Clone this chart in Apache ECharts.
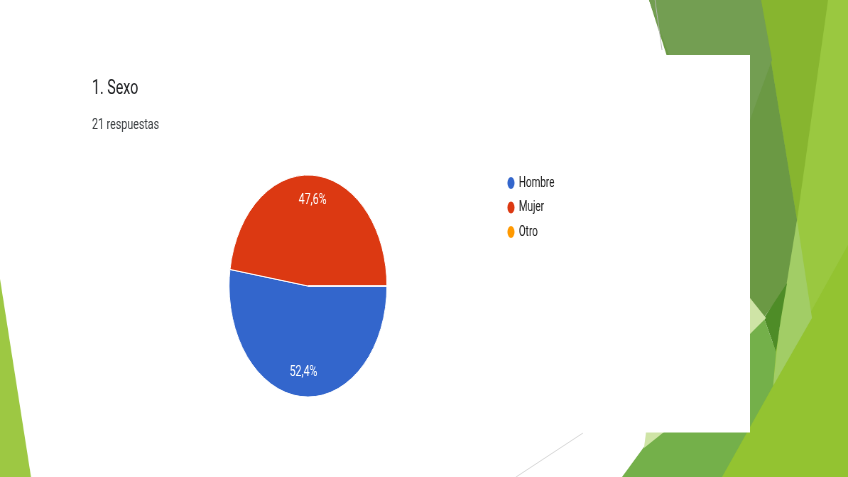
<!DOCTYPE html>
<html><head><meta charset="utf-8">
<script src="https://cdn.jsdelivr.net/npm/echarts@6/dist/echarts.min.js"></script>
<style>
html,body{margin:0;padding:0;overflow:hidden;background:#fff;width:848px;height:477px}
#c{width:1194px;height:477px;transform:scaleX(0.71022);transform-origin:0 0}
</style>
</head><body><div id="c"></div>
<script>
// ---- data ----
const categories = ['Hombre', 'Mujer', 'Otro'];
const counts = [11, 10, 0];
const colors = ['#3366CC', '#DC3912', '#FF9900'];
const titleText = '1. Sexo';
const subtitleText = '21 respuestas';

// ---- layout helpers ----
const S = 848 / 1194; // horizontal squeeze applied by CSS
const X = x => x / S;
const P = pts => pts.map(p => [X(p[0]), p[1]]);
const FONT = 'Roboto, "Liberation Sans", Arial, sans-serif';
const total = counts.reduce((a, b) => a + b, 0);
const fmtPct = v => (v / total * 100).toFixed(1).replace('.', ',') + '%';

function poly(points, fill, z) {
  return { type: 'polygon', shape: { points: P(points) }, style: { fill: fill }, z: z, silent: true };
}
function line(a, b, stroke, z) {
  return { type: 'line', shape: { x1: X(a[0]), y1: a[1], x2: X(b[0]), y2: b[1] }, style: { stroke: stroke, lineWidth: 1 }, z: z, silent: true };
}

const background = [
  poly([[760,0],[848,0],[848,477],[700,477],[780,330]], '#9AC840', -20),
  poly([[722,477],[808,317],[848,245],[848,477]], '#93C331', -19),
  poly([[761,0],[828,0],[797,220]], '#87B52F', -18),
  poly([[649,0],[761,0],[797,220],[788,285],[762,320],[745,330],[700,160]], '#6B9944', -17),
  poly([[649,0],[761,0],[772,60],[750,120],[669,55]], '#739E52', -16),
  poly([[797,220],[812,318],[773,386],[779,330]], '#A2CD66', -15),
  poly([[787,283],[781,318],[776,352],[764,318]], '#4E8C27', -14),
  poly([[622,477],[660,425],[745,335],[764,318],[776,352],[773,386],[722,477]], '#74B04A', -13),
  poly([[742,288],[766,318],[742,342]], '#CFE4A6', -12),
  poly([[646,432],[664,432],[644,448]], '#CFE4A6', -12),
  line([655,0], [662,50], '#B8B8B8', -11),
  line([516,477], [583,433], '#D8D8D8', -11),
  { type: 'rect', shape: { x: X(35), y: 55, width: X(750) - X(35), height: 377.5 }, style: { fill: '#FFFFFF' }, z: -10, silent: true },
  poly([[0,279],[31,477],[0,477]], '#9DC843', -9)
];

const pieData = categories.map((c, i) => ({ name: c, value: counts[i], itemStyle: { color: colors[i] } }));
const labelData = categories.map((c, i) => ({ name: c, value: counts[i] }));
const ellipseIcon = 'path://M10,0A10,10,0,1,1,10,20A10,10,0,1,1,10,0Z';

const chart = echarts.init(document.getElementById('c'), null, { renderer: 'canvas' });
chart.setOption({
  animation: false,
  backgroundColor: '#FFFFFF',
  graphic: { elements: background },
  title: [
    { text: titleText, left: X(92), top: 79, padding: 0,
      textStyle: { fontFamily: FONT, fontSize: 20, fontWeight: 'normal', color: '#202124' } },
    { text: subtitleText, left: X(92), top: 118, padding: 0,
      textStyle: { fontFamily: FONT, fontSize: 15, fontWeight: 'normal', color: '#3C4043' } }
  ],
  legend: {
    orient: 'vertical', left: X(506), top: 175, padding: 0,
    icon: ellipseIcon, symbolKeepAspect: false, itemWidth: 12, itemHeight: 14, itemGap: 8.5,
    selectedMode: false,
    data: categories.map((c, i) => ({ name: c, itemStyle: { color: colors[i] } })),
    textStyle: { fontFamily: FONT, fontSize: 14, color: '#222222' }
  },
  series: [
    {
      type: 'pie', center: [X(308), 286], radius: 111,
      startAngle: 0, clockwise: true, avoidLabelOverlap: false,
      silent: true, emphasis: { disabled: true },
      itemStyle: { borderColor: '#FFFFFF', borderWidth: 1 },
      label: { show: false }, labelLine: { show: false },
      data: pieData
    },
    {
      type: 'pie', center: [X(308), 286], radius: 166,
      startAngle: 0, clockwise: true, avoidLabelOverlap: false,
      silent: true, emphasis: { disabled: true }, legendHoverLink: false,
      itemStyle: { color: 'rgba(0,0,0,0)', borderWidth: 0 },
      label: { show: true, position: 'inside', color: '#FFFFFF', fontFamily: FONT, fontSize: 15,
        formatter: p => p.value > 0 ? fmtPct(p.value) : '' },
      labelLine: { show: false },
      data: labelData
    }
  ]
});
</script>
</body></html>
